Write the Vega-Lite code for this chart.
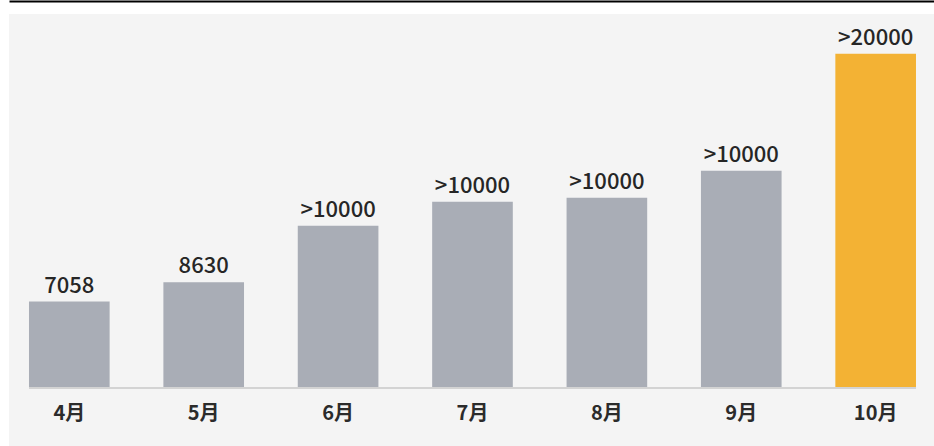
{
  "$schema": "https://vega.github.io/schema/vega-lite/v6.json",
  "autosize": "none",
  "width": 925,
  "height": 432,
  "padding": {"left": 9, "top": 14, "right": 0, "bottom": 0},
  "background": "#ffffff",
  "config": {
    "view": {"fill": "#f4f4f4", "stroke": null},
    "font": "Noto Sans CJK SC"
  },
  "data": {
    "values": [
      {"month": "4月", "value": 7058, "label": "7058", "highlight": "no"},
      {"month": "5月", "value": 8630, "label": "8630", "highlight": "no"},
      {"month": "6月", "value": 13251, "label": ">10000", "highlight": "no"},
      {"month": "7月", "value": 15211, "label": ">10000", "highlight": "no"},
      {"month": "8月", "value": 15537, "label": ">10000", "highlight": "no"},
      {"month": "9月", "value": 17742, "label": ">10000", "highlight": "no"},
      {"month": "10月", "value": 27294, "label": ">20000", "highlight": "yes"}
    ]
  },
  "encoding": {
    "x": {
      "field": "month",
      "type": "nominal",
      "sort": null,
      "scale": {"paddingInner": 0.4, "paddingOuter": 0.1414, "align": 0.526}
    },
    "y": {
      "field": "value",
      "type": "quantitative",
      "scale": {"domain": [0, 30536], "range": [374, 0], "nice": false},
      "axis": null
    }
  },
  "layer": [
    {
      "mark": {"type": "bar"},
      "encoding": {
        "x": {
          "field": "month",
          "type": "nominal",
          "sort": null,
          "scale": {"paddingInner": 0.4, "paddingOuter": 0.1414, "align": 0.526},
          "axis": {
            "orient": "bottom",
            "offset": -58,
            "domain": false,
            "ticks": false,
            "title": null,
            "labelAngle": 0,
            "labelPadding": 15,
            "labelFontSize": 20,
            "labelFontWeight": 600,
            "labelColor": "#2b2b2b",
            "labelFont": "Noto Sans CJK SC"
          }
        },
        "color": {
          "field": "highlight",
          "type": "nominal",
          "scale": {"domain": ["no", "yes"], "range": ["#a9adb6", "#f3b234"]},
          "legend": null
        }
      }
    },
    {
      "mark": {"type": "text", "baseline": "alphabetic", "dy": -9, "fontSize": 22, "fontWeight": 500, "color": "#262626"},
      "encoding": {
        "x": {
          "field": "month",
          "type": "nominal",
          "sort": null,
          "scale": {"paddingInner": 0.4, "paddingOuter": 0.1414, "align": 0.526},
          "axis": {
            "orient": "top",
            "offset": 13,
            "domain": true,
            "domainColor": "#000000",
            "domainWidth": 2,
            "labels": false,
            "ticks": false,
            "title": null
          }
        },
        "text": {"field": "label"}
      }
    },
    {
      "data": {"values": [{"start": "4月", "end": "10月", "base": 0}]},
      "mark": {"type": "rule", "color": "#d3d3d3", "strokeWidth": 2},
      "encoding": {
        "x": {"field": "start", "type": "nominal", "bandPosition": 0, "axis": null},
        "x2": {"field": "end", "bandPosition": 1},
        "y": {"field": "base", "type": "quantitative"}
      }
    }
  ],
  "resolve": {"axis": {"x": "independent"}}
}
